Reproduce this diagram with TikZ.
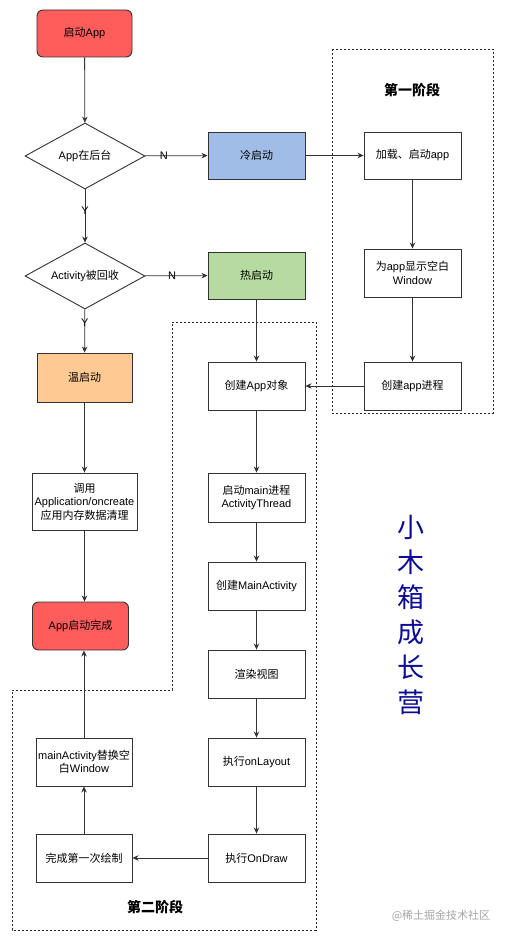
\documentclass[tikz,border=0pt]{standalone}
\usepackage{fontspec}
\setmainfont{Liberation Sans}
\newfontfamily\cjk{Noto Sans CJK SC}
\newcommand\zh[1]{{\cjk #1}}
\usetikzlibrary{shapes.geometric,arrows.meta}
\definecolor{cred}{HTML}{FF5C5C}
\definecolor{cblue}{HTML}{A0BDE7}
\definecolor{cgreen}{HTML}{B5DBA0}
\definecolor{corange}{HTML}{FFC993}
\definecolor{cnavy}{HTML}{0C0C96}
\definecolor{cline}{HTML}{333333}
\tikzset{
  box/.style={draw=cline, line width=0.9pt, minimum width=97pt, minimum height=48pt,
    inner sep=1pt, align=center, font=\fontsize{11}{13.5}\selectfont},
  rbox/.style={box, rounded corners=6pt},
  dia/.style={draw=cline, line width=0.9pt, diamond, shape aspect=1.82, minimum width=120pt, minimum height=66pt,
    inner sep=0pt, align=center, font=\fontsize{11}{13.5}\selectfont},
  arr/.style={draw=cline, line width=0.8pt, -{Stealth[length=6pt,width=5.5pt]}},
  lbl/.style={font=\fontsize{11}{13}\selectfont, inner sep=0pt},
  zone/.style={draw=black!85, line width=0.8pt, dash pattern=on 2pt off 2pt},
  title/.style={font=\cjk\bfseries\fontsize{14}{16}\selectfont},
}
\begin{document}
\begin{tikzpicture}[x=1pt,y=-1pt]
\fill[white] (0,0) rectangle (505,939);
\useasboundingbox (0,0) rectangle (505,939);

% dashed zones
\draw[zone] (332,49) rectangle (493,413);
\draw[zone] (172,322) -- (316,322) -- (316,930) -- (12,930) -- (12,690) -- (172,690) -- cycle;
\node[title] (t1) at (412,90) {第一阶段};
\node[title] (t2) at (155,907) {第二阶段};

% left column
\node[rbox, fill=cred, minimum width=95pt, minimum height=47pt] (start) at (84.5,33.5) {\zh{启动}App};
\node[dia] (d1) at (85,156) {App\zh{在后台}};
\node[dia] (d2) at (85,276) {Activity\zh{被回收}};
\node[box, fill=corange, minimum width=95pt, minimum height=49pt] (warm) at (84.5,377.5) {\zh{温启动}};
\node[box, minimum width=105pt, minimum height=57pt] (call) at (84.5,501.5) {\zh{调用}\\Application/oncreate\\\zh{应用内存数据清理}};
\node[rbox, fill=cred, minimum width=96pt, minimum height=48pt] (finish) at (80.5,626) {App\zh{启动完成}};
\node[box, minimum width=96pt] (replace) at (84,762) {mainActivity\zh{替换空}\\\zh{白}Window};
\node[box, minimum width=96pt] (done) at (84,858) {\zh{完成第一次绘制}};

% middle column
\node[box, fill=cblue, minimum height=47pt] (cold) at (256.5,155.5) {\zh{冷启动}};
\node[box, fill=cgreen, minimum height=47pt] (hot) at (256.5,275.5) {\zh{热启动}};
\node[box] (capp) at (256.5,386) {\zh{创建}App\zh{对象}};
\node[box, minimum height=49pt] (mainp) at (256.5,497.5) {\zh{启动}main\zh{进程}\\ActivityThread};
\node[box] (mact) at (256.5,586) {\zh{创建}MainActivity};
\node[box] (render) at (256.5,674) {\zh{渲染视图}};
\node[box] (layout) at (256.5,762) {\zh{执行}onLayout};
\node[box] (draw) at (256.5,858) {\zh{执行}OnDraw};

% right column
\node[box, minimum height=47pt] (load) at (412.5,155.5) {\zh{加载、启动}app};
\node[box] (win) at (412.5,273) {\zh{为}app\zh{显示空白}\\Window};
\node[box] (proc) at (412.5,386) {\zh{创建}app\zh{进程}};

% connectors
\draw[arr] (start) -- (d1);
\draw[arr] (d1) -- node[lbl, pos=0.3] {N} (cold);
\draw[arr] (d1) -- node[lbl, pos=0.4] {Y} (d2);
\draw[arr] (d2) -- node[lbl, pos=0.43] {N} (hot);
\draw[arr] (d2) -- node[lbl, pos=0.3] {Y} (warm);
\draw[arr] (warm) -- (call);
\draw[arr] (call.south) -- (call.south |- finish.north);
\draw[arr] (cold) -- (load);
\draw[arr] (load) -- (win);
\draw[arr] (win) -- (proc);
\draw[arr] (proc) -- (capp);
\draw[arr] (hot) -- (capp);
\draw[arr] (capp) -- (mainp);
\draw[arr] (mainp) -- (mact);
\draw[arr] (mact) -- (render);
\draw[arr] (render) -- (layout);
\draw[arr] (layout) -- (draw);
\draw[arr] (draw) -- (done);
\draw[arr] (done) -- (replace);
\draw[arr] (replace.north) -- (replace.north |- finish.south);

% side text
\node[text=cnavy, font=\cjk\fontsize{27}{35}\selectfont, align=center, inner sep=0pt] (brand) at (411,615) {小\\木\\箱\\成\\长\\营};
\node[text=black!35, font=\cjk\fontsize{11}{13}\selectfont, inner sep=0pt] (wm) at (441,916) {@稀土掘金技术社区};
\end{tikzpicture}
\end{document}
